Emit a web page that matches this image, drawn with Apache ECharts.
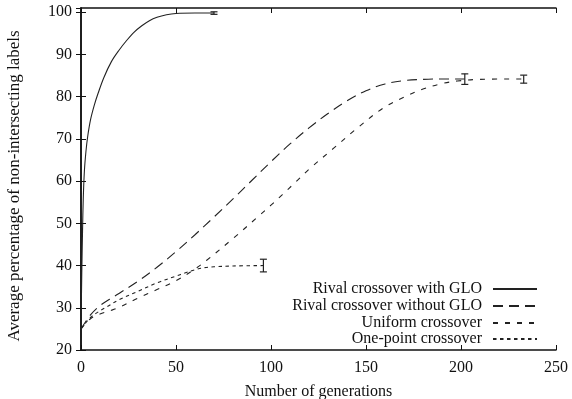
<!DOCTYPE html>
<html>
<head>
<meta charset="utf-8">
<script src="https://cdn.jsdelivr.net/npm/echarts@6/dist/echarts.min.js"></script>
<style>
  html, body { margin: 0; padding: 0; background: #fff; }
  #chart { width: 572px; height: 399px; }
</style>
</head>
<body>
<div id="chart"></div>
<script>
// generations / values
const gloGen = [0, 0.4, 0.8, 1.2, 1.8, 2.6, 3.5, 5, 7, 9, 12, 16, 20, 24, 28, 32, 36, 40, 45, 50, 60, 70]
const gloVal = [25, 38, 48, 56, 62.5, 67, 70.5, 74.5, 78, 80.8, 84.5, 88.3, 91, 93.3, 95.3, 96.8, 98, 98.8, 99.4, 99.7, 99.8, 99.8]

const noGloGen = [0, 5, 10, 15, 20, 30, 40, 50, 60, 70, 80, 90, 100, 110, 120, 130, 140, 150, 160, 170, 180, 190, 202]
const noGloVal = [25, 28.3, 30.5, 32, 33.4, 36.3, 39.6, 43.3, 47.3, 51.5, 55.8, 60.2, 64.6, 68.8, 72.6, 76, 79, 81.4, 83, 83.8, 84.1, 84.2, 84.2]

const uniGen = [0, 5, 10, 16, 20, 30, 40, 50, 60, 66, 80, 94, 100, 106, 113, 120, 133, 145, 159, 170, 180, 190, 198, 210, 233]
const uniVal = [25, 27.4, 28.5, 29.4, 30.1, 32.3, 34.3, 36.4, 39.2, 41.2, 46.4, 51.9, 54.3, 56.8, 59.8, 62.8, 67.8, 72.4, 77.3, 79.9, 81.8, 83.1, 83.7, 84.1, 84.2]

const oneGen = [0, 5, 10, 13.5, 20, 30, 40, 50, 55, 60, 65, 70, 80, 96]
const oneVal = [25, 27.7, 29.3, 30.2, 31.9, 33.9, 35.9, 37.5, 38.3, 39.0, 39.5, 39.7, 39.9, 40]

// error bars at the end of each run: [generation, low, high]
const errBars = [
  [70, 99.5, 100.1],
  [202, 82.9, 85.4],
  [233, 83.2, 85.1],
  [96, 38.5, 41.5],
]

const seriesNames = ['Rival crossover with GLO', 'Rival crossover without GLO', 'Uniform crossover', 'One-point crossover']
const xTicks = [0, 50, 100, 150, 200, 250]

const FONT = '"Liberation Serif", "DejaVu Serif", serif'
const INK = '#111'

const pairs = (xs, ys) => xs.map((x, i) => [x, ys[i]])

const chart = echarts.init(document.getElementById('chart'))

function lineSeries(name, xs, ys, dash) {
  return {
    name,
    type: 'line',
    data: pairs(xs, ys),
    smooth: 0.35,
    symbol: 'none',
    lineStyle: { color: '#222', width: 1.1, type: dash },
    itemStyle: { color: '#222' },
    z: 3,
  }
}

// one legend per row so the texts end at the same x
const rowTops = [276, 293, 310, 326]
const legends = seriesNames.map((n, i) => ({
  data: [n],
  right: 29,
  top: rowTops[i],
  align: 'right',
  itemWidth: 44,
  itemHeight: 14,
  itemStyle: { color: 'rgba(0,0,0,0)', borderColor: 'rgba(0,0,0,0)', borderWidth: 0 },
  textStyle: { fontFamily: FONT, fontSize: 16, color: INK, padding: [0, 6, 0, 0] },
  selectedMode: false,
}))

const axisCommon = {
  axisLine: { show: true, lineStyle: { color: INK, width: 1.5 } },
  axisTick: { show: true, inside: true, length: 5, lineStyle: { color: INK, width: 1 } },
  splitLine: { show: false },
}

chart.setOption({
  animation: false,
  backgroundColor: '#fff',
  grid: { left: 81, right: 16, top: 8, bottom: 49, containLabel: false, outerBoundsMode: 'none' },
  legend: legends,
  xAxis: [
    {
      type: 'value', min: 0, max: 250, interval: 50, position: 'bottom',
      ...axisCommon,
      axisLabel: { fontFamily: FONT, fontSize: 16, color: INK, margin: 10,
        formatter: v => xTicks.includes(v) ? String(v) : '' },
      name: 'Number of generations',
      nameLocation: 'middle',
      nameGap: 34,
      nameTextStyle: { fontFamily: FONT, fontSize: 16, color: INK },
    },
    {
      type: 'value', min: 0, max: 250, interval: 50, position: 'top',
      ...axisCommon,
      axisLabel: { show: false },
    },
  ],
  yAxis: [
    {
      type: 'value', min: 20, max: 101, interval: 10, position: 'left',
      ...axisCommon,
      axisLabel: { fontFamily: FONT, fontSize: 16, color: INK, margin: 9, showMaxLabel: false,
        formatter: v => v % 10 === 0 ? String(v) : '' },
      name: 'Average percentage of non-intersecting labels',
      nameLocation: 'middle',
      nameGap: 58,
      nameTextStyle: { fontFamily: FONT, fontSize: 17, color: INK, padding: [0, 14, 0, 0] },
    },
    {
      type: 'value', min: 20, max: 101, interval: 10, position: 'right',
      ...axisCommon,
      axisLabel: { show: false },
    },
  ],
  series: [
    lineSeries(seriesNames[0], gloGen, gloVal, 'solid'),
    lineSeries(seriesNames[1], noGloGen, noGloVal, [10, 6]),
    lineSeries(seriesNames[2], uniGen, uniVal, [5, 7]),
    lineSeries(seriesNames[3], oneGen, oneVal, [3.5, 3.5]),
    {
      type: 'custom',
      data: errBars,
      encode: { x: 0, y: [1, 2] },
      z: 4,
      renderItem(params, api) {
        const x = api.value(0)
        const top = api.coord([x, api.value(2)])
        const bot = api.coord([x, api.value(1)])
        const w = 3.5
        const style = { stroke: '#222', lineWidth: 1.2 }
        return {
          type: 'group',
          children: [
            { type: 'line', shape: { x1: top[0], y1: top[1], x2: bot[0], y2: bot[1] }, style },
            { type: 'line', shape: { x1: top[0] - w, y1: top[1], x2: top[0] + w, y2: top[1] }, style },
            { type: 'line', shape: { x1: bot[0] - w, y1: bot[1], x2: bot[0] + w, y2: bot[1] }, style },
          ],
        }
      },
    },
  ],
})
</script>
</body>
</html>
